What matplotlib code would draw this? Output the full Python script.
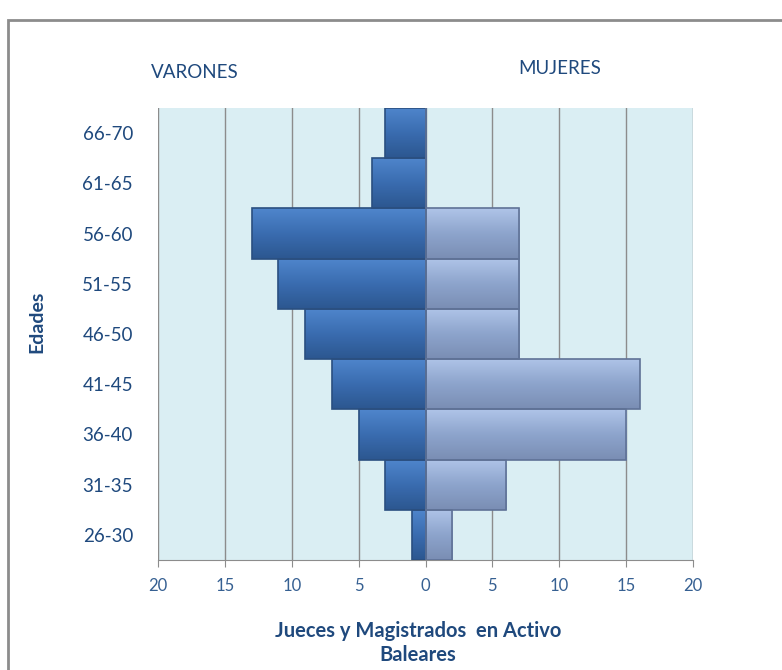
import numpy as np
import matplotlib.pyplot as plt
from matplotlib.patches import Rectangle
from matplotlib.colors import LinearSegmentedColormap

# Age groups, bottom to top
edades = ["26-30", "31-35", "36-40", "41-45", "46-50", "51-55", "56-60", "61-65", "66-70"]
varones = [1, 3, 5, 7, 9, 11, 13, 4, 3]
mujeres = [2, 6, 15, 16, 7, 7, 7, 0, 0]
x_ticks = [-20, -15, -10, -5, 0, 5, 10, 15, 20]
x_labels = ["20", "15", "10", "5", "0", "5", "10", "15", "20"]

text_color = "#1F497D"
tick_color = "#366092"

men_cmap = LinearSegmentedColormap.from_list("men", ["#2C5790", "#3A6CB0", "#4F86CC"])
women_cmap = LinearSegmentedColormap.from_list("women", ["#7A8EB4", "#8DA4CC", "#AFC4E8"])

plt.rcParams["font.family"] = ["Lato", "DejaVu Sans"]

fig = plt.figure(figsize=(7.82, 6.70), dpi=100)

# outer chart frame
fig.patches.append(Rectangle((8 / 782, -0.01), 1.0, 1 - 20 / 670 + 0.01,
                             transform=fig.transFigure, fill=False,
                             edgecolor="#8C8C8C", linewidth=2.0))

ax = fig.add_axes([158 / 782, 1 - 560 / 670, (693 - 158) / 782, (560 - 108) / 670])
ax.set_facecolor("#DAEEF3")

y = np.arange(len(edades))
men_bars = ax.barh(y, [-v for v in varones], height=1.0, color="none",
                   edgecolor="#2A4F80", linewidth=1.2, zorder=4)
women_bars = ax.barh(y, mujeres, height=1.0, color="none",
                     edgecolor="#5F7296", linewidth=1.2, zorder=4)

# vertical gradient fill clipped to each bar (bevel look)
grad = np.linspace(0, 1, 64).reshape(-1, 1)
for bars, cmap in [(men_bars, men_cmap), (women_bars, women_cmap)]:
    for b in bars:
        if b.get_width() == 0:
            continue
        x0, y0 = b.get_x(), b.get_y()
        x1, y1 = x0 + b.get_width(), y0 + b.get_height()
        im = ax.imshow(grad, cmap=cmap, aspect="auto", origin="lower",
                       extent=[min(x0, x1), max(x0, x1), y0, y1], zorder=3)
        im.set_clip_path(b)

ax.set_xlim(-20, 20)
ax.set_ylim(-0.5, len(edades) - 0.5)
ax.set_xticks(x_ticks)
ax.set_xticklabels(x_labels, color=tick_color, fontsize=12)
ax.set_yticks(y)
ax.set_yticklabels(edades, color=text_color, fontsize=13.5)
ax.tick_params(axis="y", length=0, pad=18)
ax.tick_params(axis="x", length=5, color="#8C8C8C", pad=8)
ax.xaxis.grid(True, color="#8C8C8C", linewidth=1.0, zorder=0)
ax.set_axisbelow(True)
for s in ["top", "right", "left"]:
    ax.spines[s].set_visible(False)
ax.spines["bottom"].set_color("#8C8C8C")

fig.text(37 / 782, 1 - 322 / 670, "Edades", rotation=90, ha="center", va="center",
         color=text_color, fontsize=14, fontweight="bold")
fig.text(195 / 782, 1 - 72 / 670, "VARONES", ha="center", va="center",
         color=text_color, fontsize=13.5)
fig.text(560 / 782, 1 - 69 / 670, "MUJERES", ha="center", va="center",
         color=text_color, fontsize=13.5)
fig.text(418 / 782, 1 - 643 / 670, "Jueces y Magistrados  en Activo\nBaleares",
         ha="center", va="center", color=text_color, fontsize=14.5,
         fontweight="bold", linespacing=1.25)

fig.savefig("out.png", dpi=100)
